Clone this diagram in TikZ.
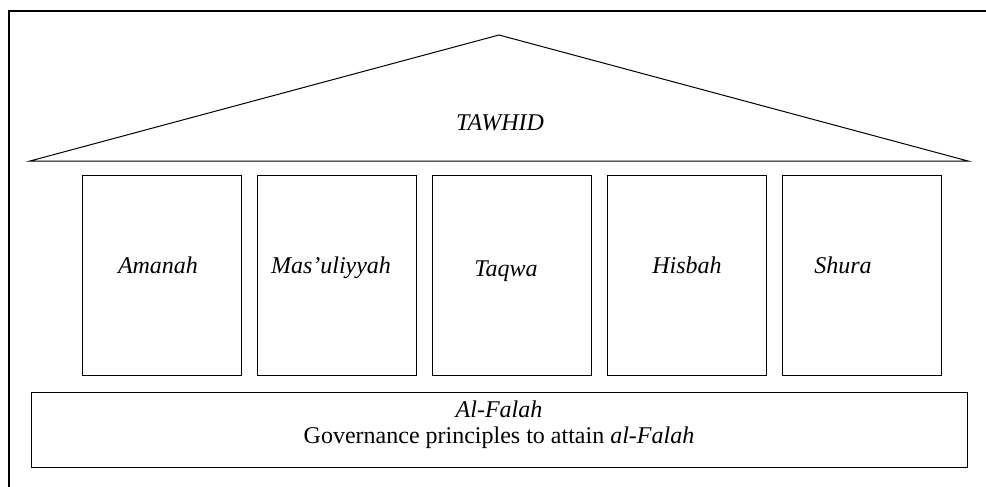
\documentclass[tikz,border=0pt]{standalone}
\usepackage{fontspec}
\setmainfont{Liberation Serif}
\usetikzlibrary{positioning}

\begin{document}
\begin{tikzpicture}[
	x = 1pt, y = -1pt, % one unit per pixel, y going down
	line width = 1pt, % line style
	node distance = 16pt, % gap between pillars
	font = \fontsize{24}{26}\selectfont\itshape
	]
	
	\tikzstyle{pillar}=[
	draw = black,
	minimum width = 159pt,
	minimum height = 200pt,
	inner sep = 0pt,
	outer sep = 0pt
	]
	
	\tikzstyle{value}=[
	text height = 16pt,
	text depth = 5pt
	]
	
	\useasboundingbox (0,0) rectangle (986,487);
	
	% outer frame
	\draw[line width = 2pt] (9,487) -- (9,11) -- (986,11);
	
	% roof
	\coordinate (roofL) at (30,161);
	\coordinate (apex) at (499,35);
	\coordinate (roofR) at (968,161);
	\draw (roofL) -- (apex) -- (roofR) -- cycle;
	\node (tawhid) at (500,123) {TAWHID};
	
	% pillars
	\node[pillar] (amanah) at (161.5,275) {};
	\node[pillar] (masuliyyah) [right=of amanah] {};
	\node[pillar] (taqwa) [right=of masuliyyah] {};
	\node[pillar] (hisbah) [right=of taqwa] {};
	\node[pillar] (shura) [right=of hisbah] {};
	
	\node[value] (amanahtxt) at (158,268) {Amanah};
	\node[value] (masuliyyahtxt) at (331,268) {Mas’uliyyah};
	\node[value] (taqwatxt) at (506,271) {Taqwa};
	\node[value] (hisbahtxt) at (687,268) {Hisbah};
	\node[value] (shuratxt) at (843,268) {Shura};
	
	% base
	\node[draw = black, minimum width = 936pt, minimum height = 75pt, inner sep = 0pt] (falah) at (499,429.5) {};
	\node[align = center] (falahtxt) at (499,425) {Al-Falah\\ \upshape Governance principles to attain \itshape al-Falah};
	
\end{tikzpicture}
\end{document}
